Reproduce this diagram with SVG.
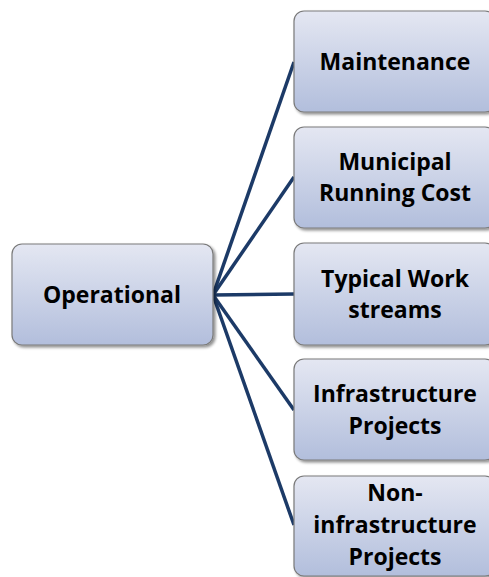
<svg xmlns="http://www.w3.org/2000/svg" width="489" height="577" viewBox="0 0 489 577">
<defs>
<linearGradient id="g" x1="0" y1="0" x2="0" y2="1">
<stop offset="0" stop-color="#e4e7f2"/>
<stop offset="1" stop-color="#b2bedc"/>
</linearGradient>
<filter id="sh" x="-10%" y="-10%" width="130%" height="130%">
<feGaussianBlur in="SourceAlpha" stdDeviation="1.5"/>
<feOffset dx="1.5" dy="2" result="b"/>
<feComponentTransfer><feFuncA type="linear" slope="0.45"/></feComponentTransfer>
<feMerge><feMergeNode/><feMergeNode in="SourceGraphic"/></feMerge>
</filter>
</defs>
<style>
.box{fill:url(#g);stroke:#7a7a7a;stroke-width:1.2;filter:url(#sh)}
.t{font-family:"Open Sans","Liberation Sans",sans-serif;font-weight:bold;font-size:23px;fill:#000;text-anchor:middle}
.c{stroke:#1c3a67;stroke-width:3.5;fill:none}
</style>
<g id="connectors">
<line class="c" x1="213" y1="295" x2="294" y2="62"/>
<line class="c" x1="213" y1="295" x2="294" y2="177"/>
<line class="c" x1="213" y1="295" x2="294" y2="294"/>
<line class="c" x1="213" y1="295" x2="294" y2="410"/>
<line class="c" x1="213" y1="295" x2="294" y2="525"/>
</g>
<g id="operational">
<rect class="box" x="12" y="244" width="201" height="101" rx="10"/>
<text class="t" x="112" y="303">Operational</text>
</g>
<g id="maintenance">
<rect class="box" x="294" y="11" width="201" height="101" rx="10"/>
<text class="t" x="395" y="70">Maintenance</text>
</g>
<g id="municipal">
<rect class="box" x="294" y="127" width="201" height="101" rx="10"/>
<text class="t" x="395" y="170">Municipal</text>
<text class="t" x="395" y="201">Running Cost</text>
</g>
<g id="typical">
<rect class="box" x="294" y="243" width="201" height="102" rx="10"/>
<text class="t" x="395" y="287">Typical Work</text>
<text class="t" x="395" y="318">streams</text>
</g>
<g id="infrastructure">
<rect class="box" x="294" y="359" width="201" height="101" rx="10"/>
<text class="t" x="395" y="402">Infrastructure</text>
<text class="t" x="395" y="434">Projects</text>
</g>
<g id="noninfrastructure">
<rect class="box" x="294" y="476" width="201" height="100" rx="10"/>
<text class="t" x="395" y="501">Non-</text>
<text class="t" x="395" y="533">infrastructure</text>
<text class="t" x="395" y="565">Projects</text>
</g>
</svg>
